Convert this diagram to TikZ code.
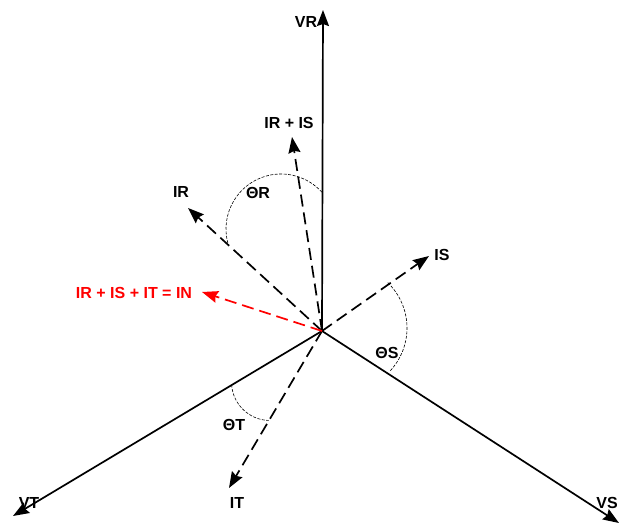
\documentclass[tikz,border=0pt]{standalone}
\usepackage{fontspec}
\setmainfont{Liberation Sans}
\usetikzlibrary{arrows.meta, calc}
\usepackage{xcolor}
\definecolor{NeutralRed}{HTML}{FF0000}

\begin{document}
\begin{tikzpicture}[x=1pt, y=1pt,
        phasor/.style={-{Stealth[length=16pt, width=12pt, inset=2pt]}, line width=1.7pt, color=black},
        current/.style={phasor, dash pattern=on 12pt off 6pt},
        neutral/.style={current, color=NeutralRed},
        anglearc/.style={line width=0.6pt, dash pattern=on 3pt off 1.5pt},
        lbl/.style={font=\bfseries\fontsize{16}{18}\selectfont, inner sep=0pt}
    ]
        \useasboundingbox (0,0) rectangle (619,526);

        % Star point and phasor tips
        \coordinate (o) at (322,195);
        \coordinate (vr) at (323,516);
        \coordinate (vs) at (619,3);
        \coordinate (vt) at (13,10);
        \coordinate (ir) at (188,318);
        \coordinate (irs) at (292,389);
        \coordinate (is) at (429,270);
        \coordinate (it) at (229,38);
        \coordinate (in) at (202,234);

        % Phase voltages
        \draw[phasor] (o) -- (vr);
        \draw[phasor] (o) -- (vs);
        \draw[phasor] (o) -- (vt);

        % Line currents
        \draw[current] (o) -- (ir);
        \draw[current] (o) -- (irs);
        \draw[current] (o) -- (is);
        \draw[current] (o) -- (it);
        \draw[neutral] (o) -- (in);

        % Phase angles
        \coordinate (cr) at (281,297);
        \coordinate (cs) at (344,198);
        \coordinate (ct) at (270,144);
        \draw[anglearc] ($(cr)+(195:55)$) arc[start angle=195, end angle=42, radius=55];
        \draw[anglearc] ($(cs)+(46:63)$) arc[start angle=46, end angle=-44, radius=63];
        \draw[anglearc] ($(ct)+(184:38.5)$) arc[start angle=184, end angle=268, radius=38.5];

        % Labels
        \node[lbl] (lvr) at (306,504) {VR};
        \node[lbl] (lvs) at (607,23) {VS};
        \node[lbl] (lvt) at (29,23) {VT};
        \node[lbl] (lir) at (181,334) {IR};
        \node[lbl] (lirs) at (289,403) {IR + IS};
        \node[lbl] (lis) at (442,271) {IS};
        \node[lbl] (lit) at (237,23) {IT};
        \node[lbl, color=NeutralRed] (lin) at (134,233) {IR + IS + IT = IN};
        \node[lbl] (tr) at (258,333) {ΘR};
        \node[lbl] (ts) at (387,173) {ΘS};
        \node[lbl] (tt) at (234,101) {ΘT};
\end{tikzpicture}
\end{document}
